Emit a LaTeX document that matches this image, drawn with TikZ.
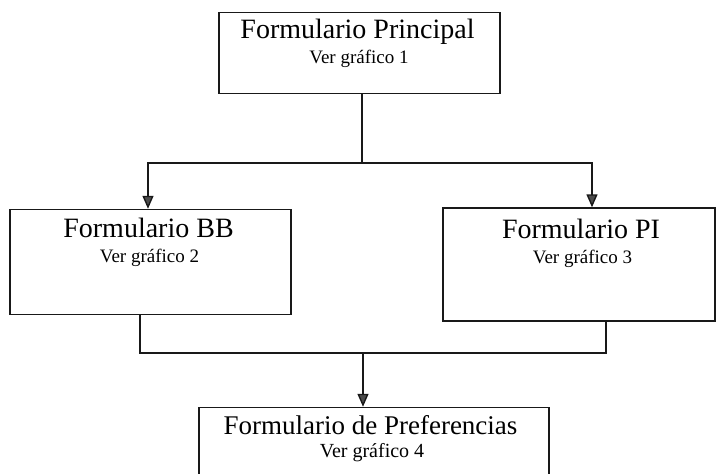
\documentclass[tikz,border=0pt]{standalone}
\usepackage{fontspec}
\setmainfont{Liberation Serif}
\usetikzlibrary{arrows.meta}
\begin{document}
\begin{tikzpicture}[x=1pt,y=-1pt,
  box/.style={draw=black!90,line width=1.4pt,rectangle,inner sep=0pt},
  ttl/.style={inner sep=0pt,anchor=base,font=\fontsize{28}{30}\selectfont},
  sub/.style={inner sep=0pt,anchor=base,font=\fontsize{19}{21}\selectfont},
  con/.style={draw=black!90,line width=1.4pt},
  arr/.style={con,-{Triangle[width=11pt,length=13pt,fill=black!70]}}]
\useasboundingbox (0,0) rectangle (716,474);
\clip (0,0) rectangle (716,474);
% boxes
\node[box,minimum width=281pt,minimum height=81pt] (p1) at (359.5,53) {};
\node[box,minimum width=281pt,minimum height=105pt] (bb) at (150.5,262) {};
\node[box,minimum width=272pt,minimum height=113pt] (pi) at (579,264.5) {};
\node[box,minimum width=350pt,minimum height=113pt] (pf) at (374,464) {};
% texts
\node[ttl] (p1t) at (357.5,38) {Formulario Principal};
\node[sub] (p1s) at (359,63) {Ver gráfico 1};
\node[ttl] (bbt) at (148.5,237) {Formulario BB};
\node[sub] (bbs) at (149.5,262) {Ver gráfico 2};
\node[ttl] (pit) at (581,238) {Formulario PI};
\node[sub] (pis) at (582.5,263) {Ver gráfico 3};
\node[ttl,font=\fontsize{27}{29}\selectfont] (pft) at (370.5,434) {Formulario de Preferencias};
\node[sub,font=\fontsize{20}{22}\selectfont] (pfs) at (372,457) {Ver gráfico 4};
% connectors
\coordinate (j1) at (362,163);
\coordinate (lb) at (148,163);
\coordinate (rb) at (592,163);
\draw[con] (j1 |- p1.south) -- (j1);
\draw[arr] (j1) -- (lb) -- (lb |- bb.north);
\draw[arr] (j1) -- (rb) -- (rb |- pi.north);
\coordinate (bl) at (140,353);
\coordinate (br) at (606,353);
\coordinate (j2) at (363,353);
\draw[con] (bl |- bb.south) -- (bl) -- (br) -- (br |- pi.south);
\draw[arr] (j2) -- (j2 |- pf.north);
\end{tikzpicture}
\end{document}
